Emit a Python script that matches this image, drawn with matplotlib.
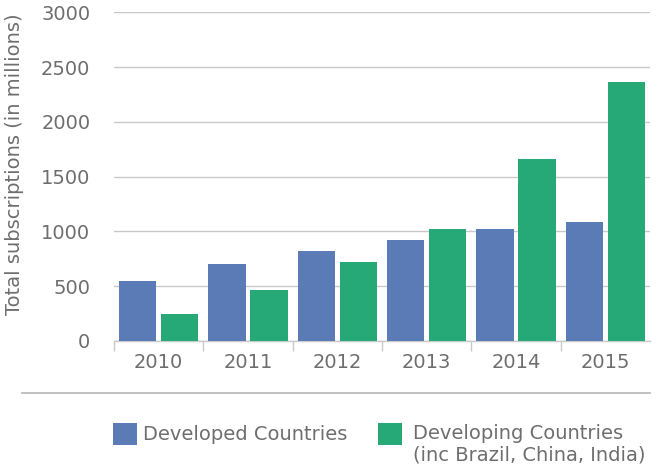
import matplotlib
matplotlib.use("Agg")
import matplotlib.pyplot as plt
from matplotlib.patches import Rectangle
from matplotlib.lines import Line2D
import numpy as np

years = ["2010", "2011", "2012", "2013", "2014", "2015"]
developed = [550, 700, 820, 920, 1020, 1090]
developing = [250, 470, 720, 1020, 1660, 2360]
series_labels = ["Developed Countries", "Developing Countries\n(inc Brazil, China, India)"]
y_ticks = [0, 500, 1000, 1500, 2000, 2500, 3000]

BLUE = "#5a7bb5"
GREEN = "#27a877"
TEXT = "#6e6e6e"
GRID = "#c9c9c9"

plt.rcParams["font.family"] = ["DejaVu Sans"]

W, H = 657, 472
fig = plt.figure(figsize=(W / 100, H / 100), dpi=100)
ax = fig.add_axes([114 / W, 1 - 341 / H, (650 - 114) / W, (341 - 12.3) / H])

x = np.arange(len(years))
bw = 0.415
off = 0.235
ax.bar(x - off, developed, width=bw, color=BLUE, zorder=3)
ax.bar(x + off, developing, width=bw, color=GREEN, zorder=3)

ax.set_xlim(-0.5, len(years) - 0.5)
ax.set_ylim(0, 3000)
ax.set_yticks(y_ticks)
ax.set_yticklabels([str(v) for v in y_ticks])
ax.yaxis.grid(True, color=GRID, linewidth=1.0, zorder=0)
ax.set_axisbelow(True)

for s in ["left", "right", "top"]:
    ax.spines[s].set_visible(False)
ax.spines["bottom"].set_color(GRID)
ax.spines["bottom"].set_linewidth(1.0)

ax.tick_params(axis="y", length=0, pad=17, labelsize=14, labelcolor=TEXT)
ax.set_xticks(x)
ax.set_xticklabels(years)
ax.tick_params(axis="x", which="major", length=0, pad=9, labelsize=14, labelcolor=TEXT)
ax.set_xticks(np.concatenate([[-0.5], x[:-1] + 0.5]), minor=True)
ax.tick_params(axis="x", which="minor", length=7, width=1.0, color=GRID)

# vertical axis title
fig.text(15 / W, 1 - 164 / H, "Total subscriptions (in millions)", rotation=90,
         fontsize=14, color=TEXT, ha="center", va="center")

# separator between plot and legend
fig.add_artist(Line2D([22 / W, 650 / W], [1 - 393 / H, 1 - 393 / H],
                      color="#b5b5b5", linewidth=1.2, transform=fig.transFigure))

# legend: swatch + label for each series
def swatch(x0, color):
    fig.add_artist(Rectangle((x0 / W, 1 - 445 / H), 24 / W, 22 / H,
                             facecolor=color, edgecolor="none",
                             transform=fig.transFigure))

swatch(113, BLUE)
fig.text(143 / W, 1 - 435 / H, series_labels[0], fontsize=14, color=TEXT,
         ha="left", va="center")
swatch(378, GREEN)
fig.text(413 / W, 1 - 424 / H, series_labels[1], fontsize=14, color=TEXT,
         ha="left", va="top", linespacing=1.15)

fig.savefig("out.png", dpi=100)
